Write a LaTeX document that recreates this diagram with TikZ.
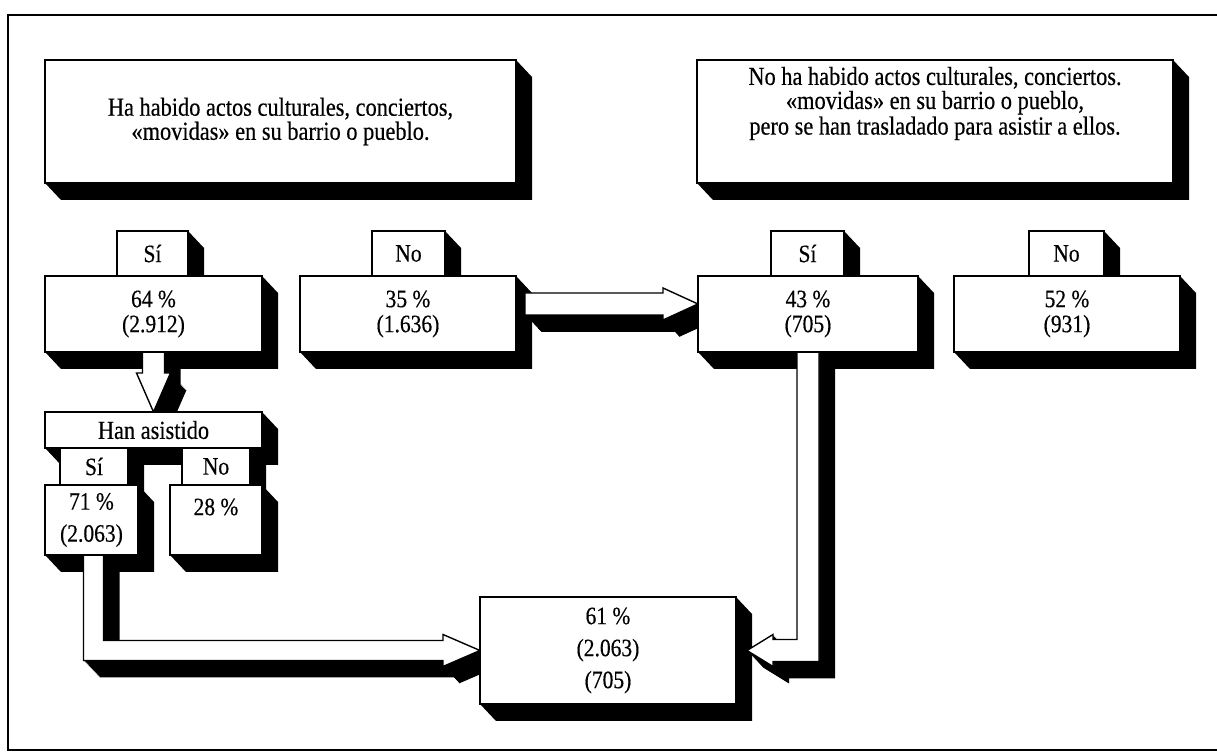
\documentclass[tikz,border=0pt]{standalone}
\usepackage{fontspec}
\setmainfont{Liberation Serif}[FakeStretch=0.86, FakeBold=0.4]
\usetikzlibrary{calc}

\pgfdeclarelayer{shade}
\pgfdeclarelayer{flow}
\pgfsetlayers{shade,flow,main}

% block arrow with a black extruded side
\newcommand{\solidarrow}[1]{%
  \foreach \k in {1,...,16} {\fill[transform canvas={shift={(\k,\k*1.06)}}] #1;}
  \filldraw[fill=white, draw=black, line width=0.7pt] #1;
}

\begin{document}
\begin{tikzpicture}[
    x=0.5pt, y=-0.5pt,
    slab/.style={draw, fill=white, line width=0.75pt, inner sep=0pt, outer sep=0pt,
                 anchor=north west, align=center, font=\fontsize{12.5}{12.5}\selectfont},
    headtext/.style={align=center, font=\fontsize{13}{11}\selectfont},
    wide/.style={font=\fontsize{12.5}{16}\selectfont},
]
\useasboundingbox (0,0) rectangle (1217,753);

% === Frame ===
\draw[line width=0.8pt] (1217,15) -- (8,15) -- (8,750) -- (1217,750);

% === Headers ===
\node[slab, headtext, minimum width=235.5pt, minimum height=61.5pt] (tl) at (45,60)
    {Ha habido actos culturales, conciertos,\\«movidas» en su barrio o pueblo.};
\node[slab, minimum width=238pt, minimum height=61.5pt] (tr) at (697,60) {};
\node[headtext] (trt) at ($(tr.center)+(0,-18)$)
    {No ha habido actos culturales, conciertos.\\«movidas» en su barrio o pueblo,\\pero se han trasladado para asistir a ellos.};

% === First row ===
\node[slab, minimum width=35.5pt, minimum height=22.5pt] (si1) at (117,231) {Sí};
\node[slab, minimum width=108.5pt, minimum height=38pt] (si1b) at (45,276) {64 \%\\(2.912)};
\node[slab, minimum width=36.5pt, minimum height=22.5pt] (no1) at (372,231) {No};
\node[slab, minimum width=108pt, minimum height=38pt] (no1b) at (300,276) {35 \%\\(1.636)};
\node[slab, minimum width=36.5pt, minimum height=22.5pt] (si2) at (771,231) {Sí};
\node[slab, minimum width=110pt, minimum height=38pt] (si2b) at (698,276) {43 \%\\(705)};
\node[slab, minimum width=37.5pt, minimum height=22.5pt] (no2) at (1029,231) {No};
\node[slab, minimum width=113pt, minimum height=38pt] (no2b) at (954,276) {52 \%\\(931)};

% === Han asistido ===
\node[slab, minimum width=108.5pt, minimum height=18pt, font=\fontsize{13}{13}\selectfont] (ha) at (45,412) {Han asistido};
\node[slab, minimum width=34pt, minimum height=18.5pt] (si3) at (60,448) {Sí};
\node[slab, minimum width=34pt, minimum height=18.5pt] (no3) at (182,448) {No};
\node[slab, wide, minimum width=46.5pt, minimum height=35pt] (si3b) at (45,485) {71 \%\\(2.063)};
\node[slab, minimum width=46pt, minimum height=35pt] (no3b) at (170,485) {};
\node[font=\fontsize{12.5}{12.5}\selectfont] (no3t) at ($(no3b.center)+(0,-13)$) {28 \%};

% === Result ===
\node[slab, wide, minimum width=128pt, minimum height=53.5pt] (res) at (480,597) {61 \%\\(2.063)\\(705)};

% Extruded sides
\begin{pgfonlayer}{shade}
  \foreach \n in {tl,tr,si1,si1b,no1,no1b,si2,si2b,no2,no2b,ha,si3,no3,si3b,no3b,res}
    \fill (\n.north east) -- ++(16,17) |- ($(\n.south west)+(16,17)$) -- (\n.south west) -- (\n.south east) -- cycle;
\end{pgfonlayer}

% === Arrows ===
\begin{pgfonlayer}{flow}
  % No -> Sí
  \coordinate (a1) at ($(no1b.east)+(9,-10)$);
  \coordinate (a2) at (si2b.west |- a1);
  \solidarrow{($(a1)+(0,-11)$) -- ($(a2)+(-35,-11)$) -- ++(0,-5) -- (a2) -- ++(-35,16) -- ++(0,-5) -- ($(a1)+(0,11)$) -- cycle}

  % 64 % -> Han asistido
  \coordinate (b1) at (si1b.south);
  \coordinate (b2) at (si1b.south |- ha.north);
  \solidarrow{($(b1)+(-11,0)$) -- ($(b2)+(-11,-39)$) -- ++(-6,0) -- (b2) -- ++(17,-39) -- ++(-6,0) -- ($(b1)+(11,0)$) -- cycle}

  % 71 % -> 61 %
  \coordinate (c1) at ($(si3b.south)+(2,0)$);
  \coordinate (c3) at (res.west);
  \coordinate (c2) at (c1 |- c3);
  \solidarrow{($(c1)+(-10,0)$) -- ($(c2)+(-10,10)$) -- ($(c3)+(-37,10)$) -- ++(0,6) -- (c3) -- ++(-37,-16) -- ++(0,6) -- ($(c2)+(10,-10)$) -- ($(c1)+(10,0)$) -- cycle}

  % 43 % -> 61 %
  \coordinate (d1) at (si2b.south);
  \coordinate (d3) at ($(res.east)+(11,0)$);
  \coordinate (d2) at (d1 |- d3);
  \solidarrow{($(d1)+(11,0)$) -- ($(d2)+(11,11)$) -- ($(d3)+(26,11)$) -- ++(0,5) -- (d3) -- ++(26,-16) -- ++(0,5) -- ($(d2)+(-11,-11)$) -- ($(d1)+(-11,0)$) -- cycle}
\end{pgfonlayer}

\end{tikzpicture}
\end{document}
